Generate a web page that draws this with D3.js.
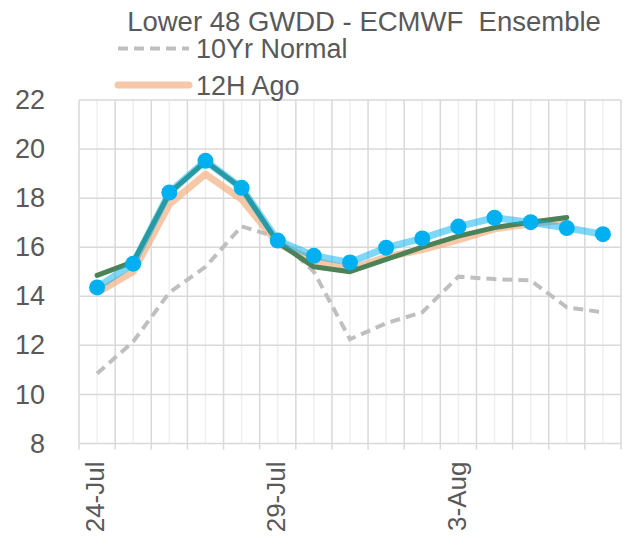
<!DOCTYPE html>
<html><head><meta charset="utf-8">
<script src="https://cdn.jsdelivr.net/npm/d3@7"></script>
<style>
html,body{margin:0;padding:0;background:#fff;}
svg{display:block;font-family:"Liberation Sans",Arial,sans-serif;}
</style></head>
<body>
<svg id="chart" width="629" height="540"></svg>
<script>
const categories = ["24-Jul","25-Jul","26-Jul","27-Jul","28-Jul","29-Jul","30-Jul","31-Jul","1-Aug","2-Aug","3-Aug","4-Aug","5-Aug","6-Aug","7-Aug"];
const tickLabels = ["24-Jul","29-Jul","3-Aug"];
const yTicks = [8,10,12,14,16,18,20,22];
const normal10Yr = [10.85,12.15,14.15,15.2,16.85,16.4,15.0,12.25,12.9,13.35,14.8,14.7,14.65,13.55,13.35];
const ago12H = [14.15,15.0,17.75,18.98,17.95,16.15,15.45,15.1,15.6,15.9,16.3,16.75,16.95,17.12];
const priorRun = [14.85,15.4,18.2,19.5,18.4,16.2,15.2,15.0,15.5,16.0,16.45,16.8,17.02,17.21];
const latestRun = [14.36,15.33,18.23,19.52,18.42,16.27,15.65,15.38,15.98,16.36,16.84,17.2,17.02,16.78,16.53];

(function(){
const svg = d3.select("#chart");
const pl = 79, pr = 621, pt = 100, pb = 443.5;
const x = d3.scaleBand().domain(categories).range([pl, pr]).padding(0);
const cx = d => x(d) + x.bandwidth()/2;
const y = d3.scaleLinear().domain([8,22]).range([pb, pt]);
const textColor = "#595959";

svg.append("g").selectAll("line").data(categories).join("line")
  .attr("x1", d => cx(d)).attr("x2", d => cx(d)).attr("y1", pt).attr("y2", pb)
  .attr("stroke", "#EFEFEF").attr("stroke-width", 1.5);
const bounds = categories.map(d => x(d)).concat([x(categories[categories.length-1]) + x.bandwidth()]);
svg.append("g").selectAll("line").data(bounds).join("line")
  .attr("x1", d => d).attr("x2", d => d).attr("y1", pt).attr("y2", pb + 6)
  .attr("stroke", "#D9D9D9").attr("stroke-width", 1.5);
svg.append("g").selectAll("line").data(yTicks).join("line")
  .attr("x1", pl).attr("x2", pr).attr("y1", d => y(d)).attr("y2", d => y(d))
  .attr("stroke", "#D9D9D9").attr("stroke-width", 1.5);

const yAxis = svg.append("g").attr("transform", `translate(${pl},0)`)
  .call(d3.axisLeft(y).tickValues(yTicks).tickSize(0).tickPadding(34));
yAxis.select(".domain").remove();
yAxis.selectAll("text").attr("fill", textColor).style("font-size", "27px")
  .style("font-family", '"Liberation Sans",Arial,sans-serif');

const xAxis = svg.append("g").attr("transform", `translate(0,${pb})`)
  .call(d3.axisBottom(x).tickValues(tickLabels).tickSize(0).tickPadding(0));
xAxis.select(".domain").remove();
xAxis.selectAll("text")
  .attr("fill", textColor).style("font-size", "26px")
  .style("font-family", '"Liberation Sans",Arial,sans-serif')
  .attr("text-anchor", "end")
  .attr("transform", "translate(-2,18) rotate(-90)")
  .attr("x", 0).attr("y", 0).attr("dy", "0.36em");

const line = d3.line().x((d,i) => cx(categories[i])).y(d => y(d));

svg.append("path").datum(normal10Yr).attr("d", line).attr("fill","none")
  .attr("stroke","#BFBFBF").attr("stroke-width",4).attr("stroke-dasharray","10,6");
svg.append("path").datum(ago12H).attr("d", line).attr("fill","none")
  .attr("stroke","#F4B183").attr("stroke-opacity",0.7).attr("stroke-width",7)
  .attr("stroke-linejoin","round");
svg.append("path").datum(priorRun).attr("d", line).attr("fill","none")
  .attr("stroke","#4C8255").attr("stroke-width",5)
  .attr("stroke-linejoin","round").attr("stroke-linecap","round");
svg.append("path").datum(latestRun).attr("d", line).attr("fill","none")
  .attr("stroke","#00B0F0").attr("stroke-opacity",0.5).attr("stroke-width",7)
  .attr("stroke-linejoin","round");
svg.append("g").selectAll("circle").data(latestRun).join("circle")
  .attr("cx", (d,i) => cx(categories[i])).attr("cy", d => y(d)).attr("r", 8)
  .attr("fill", "#00B0F0");

svg.append("text").attr("x", 364).attr("y", 31).attr("text-anchor","middle")
  .attr("fill", textColor).style("font-size","27.5px").style("white-space","pre")
  .text("Lower 48 GWDD - ECMWF  Ensemble");

const legend = [
  {name:"10Yr Normal", color:"#BFBFBF", dash:"10,6", w:4, op:1, y:48.5},
  {name:"12H Ago", color:"#F4B183", dash:null, w:7, op:0.7, y:85}
];
const lg = svg.append("g");
legend.forEach(l => {
  lg.append("line").attr("x1",118).attr("x2",189).attr("y1",l.y).attr("y2",l.y)
    .attr("stroke",l.color).attr("stroke-width",l.w).attr("stroke-opacity",l.op)
    .attr("stroke-dasharray",l.dash).attr("stroke-linecap", l.dash ? "butt" : "round");
  lg.append("text").attr("x",196).attr("y",l.y).attr("dy","0.36em")
    .attr("fill",textColor).style("font-size","27px").text(l.name);
});
})();
</script>
</body></html>
